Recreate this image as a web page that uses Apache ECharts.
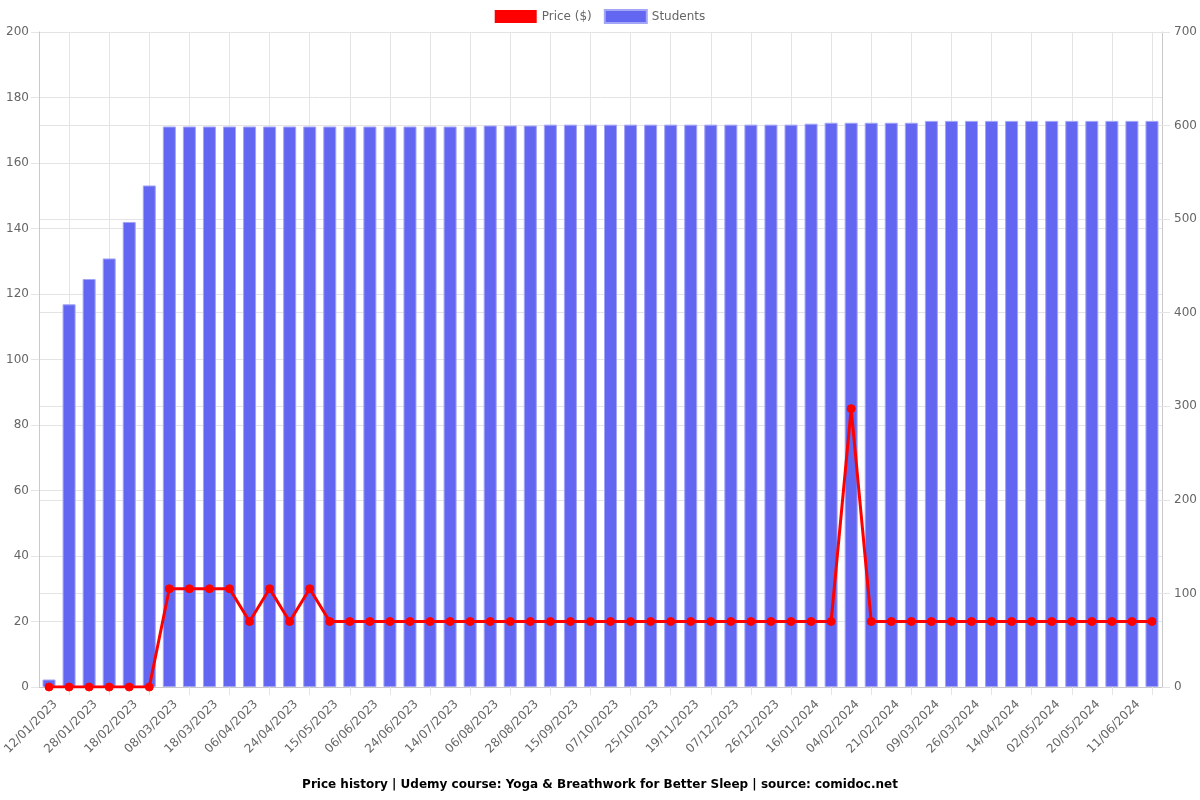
<!DOCTYPE html>
<html><head><meta charset="utf-8">
<script src="https://cdn.jsdelivr.net/npm/echarts@6/dist/echarts.min.js"></script>
<style>html,body{margin:0;padding:0;background:#fff}#c{width:1200px;height:800px}</style>
</head><body><div id="c"></div>
<script>
const dates = [
  '12/01/2023','20/01/2023','28/01/2023','08/02/2023','18/02/2023','28/02/2023',
  '08/03/2023','13/03/2023','18/03/2023','28/03/2023','06/04/2023','15/04/2023',
  '24/04/2023','04/05/2023','15/05/2023','26/05/2023','06/06/2023','15/06/2023',
  '24/06/2023','04/07/2023','14/07/2023','25/07/2023','06/08/2023','17/08/2023',
  '28/08/2023','06/09/2023','15/09/2023','26/09/2023','07/10/2023','16/10/2023',
  '25/10/2023','06/11/2023','19/11/2023','28/11/2023','07/12/2023','17/12/2023',
  '26/12/2023','06/01/2024','16/01/2024','25/01/2024','04/02/2024','12/02/2024',
  '21/02/2024','29/02/2024','09/03/2024','17/03/2024','26/03/2024','05/04/2024',
  '14/04/2024','23/04/2024','02/05/2024','11/05/2024','20/05/2024','01/06/2024',
  '11/06/2024','20/06/2024'
];
const price = [
  0,0,0,0,0,0,
  30,30,30,30,20,30,
  20,30,20,20,20,20,
  20,20,20,20,20,20,
  20,20,20,20,20,20,
  20,20,20,20,20,20,
  20,20,20,20,85,20,
  20,20,20,20,20,20,
  20,20,20,20,20,20,
  20,20
];
const students = [
  8,409,436,458,497,536,
  599,599,599,599,599,599,
  599,599,599,599,599,599,
  599,599,599,599,600,600,
  600,601,601,601,601,601,
  601,601,601,601,601,601,
  601,601,602,603,603,603,
  603,603,605,605,605,605,
  605,605,605,605,605,605,
  605,605
];
const priceAxis = {min: 0, max: 200, interval: 20};
const studentAxis = {min: 0, max: 700, interval: 100};

const L = 39, R = 38, T = 32, B = 113, W = 1200 - L - R;
const band = W / dates.length;
const gridLine = '#e4e4e4';
const axisCol = '#c9c9c9';
const font = 'DejaVu Sans';

const chart = echarts.init(document.getElementById('c'), null, {renderer: 'canvas'});
chart.setOption({
  animation: false,
  textStyle: {fontFamily: font},
  title: {
    text: 'Price history | Udemy course: Yoga & Breathwork for Better Sleep | source: comidoc.net',
    left: 'center', top: 774,
    textStyle: {fontFamily: font, fontSize: 12, fontWeight: 'bold', color: '#000'}
  },
  legend: {
    top: 4, left: 'center', itemWidth: 42, itemHeight: 13, itemGap: 12,
    textStyle: {fontFamily: font, fontSize: 12, color: '#666'},
    data: [{name: 'Price ($)', icon: 'rect'}, {name: 'Students', icon: 'rect'}]
  },
  grid: [
    {left: L, right: R, top: T, bottom: B, containLabel: false, outerBoundsMode: 'none'},
    {left: L + 1.5 * band, right: R + 0.5 * band, top: T, bottom: B, containLabel: false, outerBoundsMode: 'none'}
  ],
  xAxis: [
    {
      type: 'category', data: dates, gridIndex: 0, boundaryGap: true,
      axisLine: {show: true, lineStyle: {color: axisCol}},
      axisTick: {show: false},
      splitLine: {show: false},
      axisLabel: {interval: 1, rotate: 45, fontSize: 12, color: '#666', margin: 9,
        verticalAlign: 'top', padding: [3, 0, 0, 0], fontFamily: font}
    },
    {
      type: 'value', gridIndex: 1, min: 0, max: 54, interval: 2,
      axisLine: {show: false},
      axisTick: {show: true, length: 8, lineStyle: {color: gridLine}},
      axisLabel: {show: false},
      splitLine: {show: true, lineStyle: {color: gridLine}}
    }
  ],
  yAxis: [
    {
      type: 'value', gridIndex: 0, position: 'left',
      min: priceAxis.min, max: priceAxis.max, interval: priceAxis.interval,
      axisLine: {show: true, lineStyle: {color: axisCol}},
      axisTick: {show: true, length: 8, lineStyle: {color: gridLine}},
      axisLabel: {fontSize: 12, color: '#666', margin: 10, fontFamily: font},
      splitLine: {show: true, lineStyle: {color: gridLine}}
    },
    {
      type: 'value', gridIndex: 0, position: 'right',
      min: studentAxis.min, max: studentAxis.max, interval: studentAxis.interval,
      axisLine: {show: true, lineStyle: {color: axisCol}},
      axisTick: {show: true, length: 8, lineStyle: {color: gridLine}},
      axisLabel: {fontSize: 12, color: '#666', margin: 12, fontFamily: font},
      splitLine: {show: true, lineStyle: {color: gridLine}}
    },
    {
      type: 'value', gridIndex: 1, min: 0, max: 1, show: false
    }
  ],
  series: [
    {
      name: 'Price ($)', type: 'line', xAxisIndex: 0, yAxisIndex: 0, data: price,
      z: 5, symbol: 'circle', symbolSize: 8, showSymbol: true,
      lineStyle: {color: '#ff0000', width: 3},
      itemStyle: {color: '#ff0000', borderColor: '#ff0000'}
    },
    {
      name: 'Students', type: 'bar', xAxisIndex: 0, yAxisIndex: 1, data: students,
      z: 2, barWidth: 13,
      itemStyle: {color: '#6366f1', borderColor: '#a3a5f6', borderWidth: 1}
    }
  ]
});
</script>
</body></html>
